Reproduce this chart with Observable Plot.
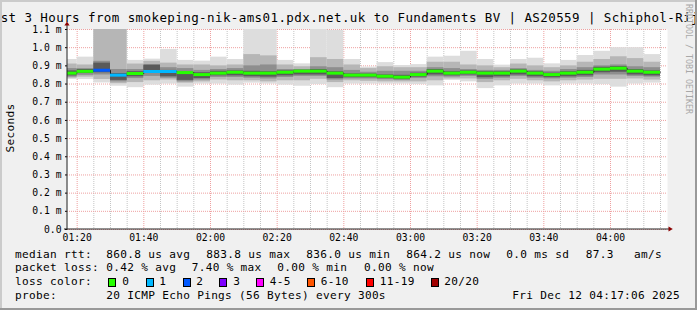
<!DOCTYPE html>
<html><head><meta charset="utf-8">
<script src="https://cdn.jsdelivr.net/npm/d3@7"></script>
<script src="https://cdn.jsdelivr.net/npm/@observablehq/plot@0.6"></script>
<style>
body{margin:0;background:#fff;}
#wrap{position:relative;width:697px;height:310px;background:#f0f0f0;overflow:hidden;font-family:"DejaVu Sans Mono",monospace;color:#000;}
#wrap .t{position:absolute;white-space:pre;line-height:1;}
.lg{font-size:11.1px;letter-spacing:0.31px;}
.ttl{font-size:12.5px;letter-spacing:0.41px;}
.wm{font-size:8.3px;color:#a8a8a8;writing-mode:vertical-rl;}
.box{position:absolute;width:6px;height:7px;border:1px solid #000;}
.edge{position:absolute;}
#plot{position:absolute;left:0;top:0;}
</style></head><body><div id="wrap"></div>
<script>
// ---- data ----
const titleText = "Last 3 Hours from smokeping-nik-ams01.pdx.net.uk to Fundaments BV | AS20559 | Schiphol-Rijk";
const binTimes = ["01:15","01:20","01:25","01:30","01:35","01:40","01:45","01:50","01:55",
  "02:00","02:05","02:10","02:15","02:20","02:25","02:30","02:35","02:40","02:45","02:50","02:55",
  "03:00","03:05","03:10","03:15","03:20","03:25","03:30","03:35","03:40","03:45","03:50","03:55",
  "04:00","04:05","04:10"];
const medianMs = [0.860,0.870,0.876,0.849,0.858,0.869,0.869,0.863,0.852,0.860,0.865,0.860,0.860,0.865,0.871,0.871,0.860,0.849,
  0.849,0.843,0.838,0.852,0.871,0.860,0.865,0.860,0.860,0.871,0.860,0.852,0.860,0.865,0.882,0.887,0.871,0.865];
const lossPings = [0,0,2,1,0,1,1,0,0,0,0,0,0,0,0,0,0,0,0,0,0,0,0,0,0,0,0,0,0,0,0,0,0,0,0,0];
const maxMs = [0.935,0.948,1.30,1.30,0.930,0.937,0.990,0.930,0.926,0.948,0.935,1.30,1.30,0.930,0.911,1.30,1.095,0.935,
  0.893,0.918,0.902,0.907,0.948,0.953,0.980,0.935,0.904,0.935,0.942,0.911,0.930,0.957,0.980,1.000,1.000,0.962];
const hi2Ms = [0.910,0.905,1.20,1.15,0.910,0.925,0.915,0.905,0.905,0.900,0.905,0.962,0.955,0.905,0.895,0.945,0.935,0.905,
  0.885,0.895,0.890,0.890,0.920,0.920,0.905,0.900,0.890,0.910,0.900,0.890,0.900,0.920,0.935,0.950,0.940,0.920];
const hi3Ms = [0.885,0.885,0.925,0.880,0.880,0.900,0.890,0.885,0.875,0.880,0.885,0.900,0.905,0.880,0.880,0.895,0.890,0.875,
  0.865,0.870,0.870,0.870,0.890,0.885,0.880,0.875,0.875,0.885,0.875,0.870,0.880,0.890,0.900,0.905,0.895,0.890];
const hi4Ms = [0.872,0.880,0.915,0.858,0.868,0.905,0.875,0.865,0.862,0.870,0.872,0.870,0.868,0.872,0.876,0.880,0.868,0.856,
  0.855,0.850,0.848,0.860,0.880,0.868,0.872,0.868,0.868,0.878,0.868,0.860,0.868,0.875,0.892,0.896,0.880,0.872];
const lo4Ms = [0.845,0.858,0.862,0.820,0.840,0.860,0.840,0.820,0.830,0.845,0.845,0.840,0.838,0.845,0.850,0.850,0.830,0.835,
  0.835,0.830,0.826,0.838,0.850,0.845,0.850,0.835,0.840,0.850,0.840,0.835,0.840,0.845,0.862,0.865,0.850,0.845];
const lo3Ms = [0.838,0.848,0.850,0.812,0.830,0.842,0.832,0.812,0.822,0.836,0.836,0.832,0.828,0.836,0.842,0.842,0.822,0.828,
  0.828,0.824,0.820,0.830,0.840,0.838,0.842,0.826,0.832,0.842,0.832,0.828,0.832,0.836,0.850,0.850,0.842,0.838];
const lo2Ms = [0.832,0.838,0.825,0.802,0.808,0.818,0.822,0.805,0.812,0.822,0.818,0.818,0.812,0.818,0.818,0.826,0.808,0.818,
  0.815,0.812,0.812,0.812,0.818,0.828,0.828,0.808,0.818,0.826,0.818,0.812,0.818,0.822,0.826,0.826,0.828,0.822];
const minMs = [0.825,0.825,0.806,0.788,0.780,0.794,0.800,0.783,0.800,0.800,0.794,0.805,0.800,0.794,0.788,0.797,0.780,0.800,
  0.800,0.800,0.800,0.797,0.790,0.820,0.812,0.775,0.790,0.800,0.800,0.790,0.800,0.800,0.797,0.783,0.800,0.805];
const yTicks = [0.0,0.1,0.2,0.3,0.4,0.5,0.6,0.7,0.8,0.9,1.0,1.1];
const xLabelTimes = ["01:20","01:40","02:00","02:20","02:40","03:00","03:20","03:40","04:00"];
const lossLabels = ["0","1","2","3","4-5","6-10","11-19","20/20"];
const lossColors = ["#26ff00","#00b8ff","#0059ff","#7e00ff","#ff00ff","#ff5500","#ff0000","#a10000"];
const statsRtt = ["860.8 us avg","883.8 us max","836.0 us min","864.2 us now","0.0 ms sd","87.3","am/s"];
const statsLoss = ["0.42 % avg","7.40 % max","0.00 % min","0.00 % now"];
const probeText = "20 ICMP Echo Pings (56 Bytes) every 300s";
const dateText = "Fri Dec 12 04:17:06 2025";

// ---- helpers ----
const day = (hm, s=0) => { const [h,m] = hm.split(":").map(Number); return new Date(Date.UTC(2025,11,12,h,m,s)); };
const t0 = day("01:17",6), t1 = day("04:17",6);
const STEP = 5*60*1000;
const lossIdx = n => n<=3 ? n : n<=5 ? 4 : n<=10 ? 5 : n<=19 ? 6 : 7;

const bins = binTimes.map((s,i) => ({
  x1: day(s), x2: new Date(+day(s)+STEP), med: medianMs[i],
  mx: maxMs[i], h2: hi2Ms[i], h3: hi3Ms[i], h4: hi4Ms[i], l4: lo4Ms[i], l3: lo3Ms[i], l2: lo2Ms[i], mn: minMs[i],
  col: lossColors[lossIdx(lossPings[i])]
}));
const stepPts = bins.map(b => ({x: b.x1, y: b.med})).concat([{x: bins[bins.length-1].x2, y: bins[bins.length-1].med}]);
const gridTimes = d3.utcMinute.every(5).range(day("01:20"), day("04:16"));
const majorTimes = xLabelTimes.map(s => day(s));
const minorTimes = gridTimes.filter(t => !majorTimes.some(m => +m === +t));

const plot = Plot.plot({
  width: 697, height: 245,
  marginLeft: 67, marginRight: 30, marginTop: 29, marginBottom: 16,
  style: {background: "transparent", fontFamily: "DejaVu Sans Mono", fontSize: "9.72px", color: "#000", overflow: "visible"},
  x: {type: "utc", domain: [t0, t1]},
  y: {domain: [0, 1.1]},
  marks: [
    Plot.frame({fill: "#fff", stroke: "none"}),
    Plot.ruleX(minorTimes, {stroke: "#c4c4c4", strokeDasharray: "1,1"}),
    Plot.ruleX(majorTimes, {stroke: "#eea0a0", strokeDasharray: "1,1"}),
    Plot.ruleY(yTicks, {stroke: "#eea0a0", strokeDasharray: "1,1"}),
    Plot.rect(bins, {x1: "x1", x2: "x2", y1: "mn", y2: "mx", fill: "#dddddd", clip: true}),
    Plot.rect(bins, {x1: "x1", x2: "x2", y1: "l2", y2: "h2", fill: "#b6b6b6", clip: true}),
    Plot.rect(bins, {x1: "x1", x2: "x2", y1: "l3", y2: "h3", fill: "#8e8e8e", clip: true}),
    Plot.rect(bins, {x1: "x1", x2: "x2", y1: "l4", y2: "h4", fill: "#5a5a5a", clip: true}),
    Plot.line(stepPts, {x: "x", y: "y", curve: "step-after", stroke: "#202020", strokeWidth: 1, clip: true}),
    Plot.ruleY(bins, {x1: "x1", x2: "x2", y: "med", stroke: "col", strokeWidth: 3, clip: true}),
    Plot.axisY({ticks: yTicks, tickSize: 2, tickPadding: 4, tickFormat: d => d === 0 ? "0.0" : d.toFixed(1) + " m", label: null}),
    Plot.axisX({ticks: majorTimes, tickSize: 0, tickPadding: 5, tickFormat: d3.utcFormat("%H:%M"), label: null})
  ]
});
plot.id = "plot";
const wrap = document.getElementById("wrap");
wrap.appendChild(plot);

// axis lines and arrows through the plot's scales
const xs = plot.scale("x"), ys = plot.scale("y");
const ax = xs.apply(t0), ay = ys.apply(0), xEnd = xs.apply(t1);
const svg = d3.select(plot);
svg.append("line").attr("x1", ax).attr("x2", ax).attr("y1", ay + 0.5).attr("y2", 25).attr("stroke", "#222");
svg.append("line").attr("x1", ax - 3).attr("x2", xEnd + 2).attr("y1", ay).attr("y2", ay).attr("stroke", "#222");
svg.append("path").attr("d", `M${ax-2.6},25.6L${ax},21.6L${ax+2.6},25.6Z`).attr("fill", "#8b0000");
svg.append("path").attr("d", `M${xEnd+1.5},${ay-2.6}L${xEnd+5.8},${ay}L${xEnd+1.5},${ay+2.6}Z`).attr("fill", "#8b0000");

// ---- text around the plot ----
function txt(s, x, top, cls) {
  const d = document.createElement("div");
  d.className = "t " + cls; d.textContent = s;
  d.style.left = x + "px"; d.style.top = top + "px";
  wrap.appendChild(d); return d;
}
function edge(l, t, w, h, c) {
  const d = document.createElement("div"); d.className = "edge";
  Object.assign(d.style, {left: l+"px", top: t+"px", width: w+"px", height: h+"px", background: c});
  wrap.appendChild(d);
}
txt(titleText, -15.2, 12.1, "ttl");
txt("RRDTOOL / TOBI OETIKER", 684.5, 4, "wm");
const yl = txt("Seconds", 11, 128, "lg");
yl.style.transform = "translate(-50%,-50%) rotate(-90deg)";

const rows = [248.6, 262.4, 276.3, 290.2];
txt("median rtt:", 15, rows[0], "lg");
[106.3, 206.3, 306.3, 406.3, 506.3, 585.7, 634].forEach((x,i) => txt(statsRtt[i], x, rows[0], "lg"));
txt("packet loss:", 15, rows[1], "lg");
[106.3, 191.7, 277.3, 364].forEach((x,i) => txt(statsLoss[i], x, rows[1], "lg"));
txt("loss color:", 15, rows[2], "lg");
const boxX = [108.3, 146, 182.7, 219.3, 256, 307.3, 366, 430.7];
const labX = [122.3, 159.2, 196.3, 233.3, 269.7, 320.7, 379.7, 444.3];
lossLabels.forEach((s,i) => {
  const b = document.createElement("div"); b.className = "box";
  Object.assign(b.style, {left: boxX[i]+"px", top: "277.5px", background: lossColors[i]});
  wrap.appendChild(b);
  txt(s, labX[i], rows[2], "lg");
});
txt("probe:", 15, rows[3], "lg");
txt(probeText, 106.3, rows[3], "lg");
txt(dateText, 512.3, rows[3], "lg");

edge(0, 0, 697, 2, "#cbcbcb");
edge(0, 0, 2, 310, "#cbcbcb");
edge(695, 0, 2, 310, "#999999");
edge(0, 308, 697, 2, "#999999");
</script></body></html>
